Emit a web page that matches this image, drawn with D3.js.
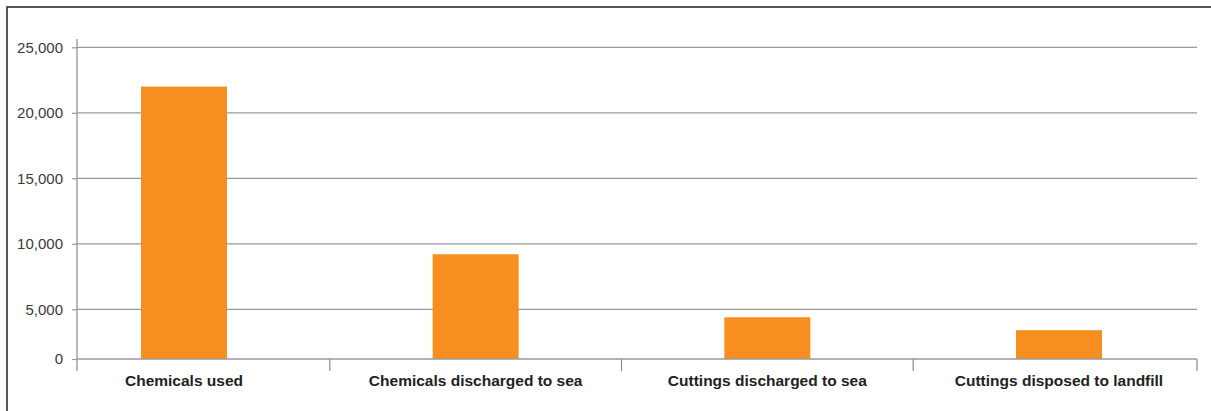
<!DOCTYPE html>
<html>
<head>
<meta charset="utf-8">
<script src="https://cdn.jsdelivr.net/npm/d3@7"></script>
<style>
  html, body { margin: 0; padding: 0; background: #fff; }
  svg { display: block; }
</style>
</head>
<body>
<svg id="chart" width="1211" height="411"></svg>
<script>
// Waste and chemical volumes by category
const categories = [
  "Chemicals used",
  "Chemicals discharged to sea",
  "Cuttings discharged to sea",
  "Cuttings disposed to landfill"
];
const values = [22000, 9200, 4200, 2900];
const tickValues = [0, 5000, 10000, 15000, 20000, 25000];

const svg = d3.select("#chart");
const W = 1211, H = 411;

// Plot frame
const plot = { left: 77, right: 1197, top: 39, base: 359, bottom: 371 };

// Outer panel border (left and top edges visible)
svg.append("rect")
  .attr("x", 7).attr("y", 7)
  .attr("width", W + 20).attr("height", H + 20)
  .attr("fill", "none")
  .attr("stroke", "#2f2f2f")
  .attr("stroke-width", 1.6);

// Value scale: the bottom step (0–5,000) is drawn compressed
const y = d3.scaleLinear()
  .domain([0, 5000, 25000])
  .range([plot.base, 309.3, 47.3]);

// Category positions
const x = d3.scalePoint()
  .domain(categories)
  .range([184, 1059]);
const barW = 86;

// Gridlines + y axis labels
const yAxis = d3.axisLeft(y)
  .tickValues(tickValues)
  .tickFormat(d3.format(","))
  .tickSize(5)
  .tickPadding(9);

const gy = svg.append("g")
  .attr("transform", `translate(${plot.left},0)`)
  .call(yAxis);
gy.select(".domain").remove();
gy.selectAll(".tick line").attr("stroke", "#999").attr("stroke-width", 1.2);
gy.selectAll(".tick text")
  .attr("fill", "#3a3a3a")
  .style("font-family", "'Liberation Sans', Arial, sans-serif")
  .style("font-size", "15px");

svg.append("g")
  .selectAll("line")
  .data(tickValues.filter(d => d > 0))
  .join("line")
  .attr("x1", plot.left).attr("x2", plot.right)
  .attr("y1", d => y(d)).attr("y2", d => y(d))
  .attr("stroke", "#9a9a9a")
  .attr("stroke-width", 1.2);

// Bars
svg.append("g")
  .selectAll("rect")
  .data(values)
  .join("rect")
  .attr("x", (d, i) => x(categories[i]) - barW / 2)
  .attr("width", barW)
  .attr("y", d => y(d))
  .attr("height", d => y(0) - y(d))
  .attr("fill", "#F68F1F");

// Vertical axis line
svg.append("line")
  .attr("x1", plot.left).attr("x2", plot.left)
  .attr("y1", plot.top).attr("y2", plot.bottom)
  .attr("stroke", "#8c8c8c")
  .attr("stroke-width", 1.2);

// Baseline
svg.append("line")
  .attr("x1", plot.left).attr("x2", plot.right)
  .attr("y1", y(0)).attr("y2", y(0))
  .attr("stroke", "#9a9a9a")
  .attr("stroke-width", 1.4);

// Category separators below the baseline
const step = x.step();
const seps = categories.slice(1).map(c => x(c) - step / 2).concat([plot.right]);
svg.append("g")
  .selectAll("line")
  .data(seps)
  .join("line")
  .attr("x1", d => d).attr("x2", d => d)
  .attr("y1", y(0)).attr("y2", plot.bottom)
  .attr("stroke", "#8c8c8c")
  .attr("stroke-width", 1.2);

// Category labels
svg.append("g")
  .selectAll("text")
  .data(categories)
  .join("text")
  .attr("x", d => x(d))
  .attr("y", 386)
  .attr("text-anchor", "middle")
  .attr("fill", "#222")
  .style("font-family", "'Liberation Sans', Arial, sans-serif")
  .style("font-weight", "bold")
  .style("font-size", "15.5px")
  .text(d => d);
</script>
</body>
</html>
